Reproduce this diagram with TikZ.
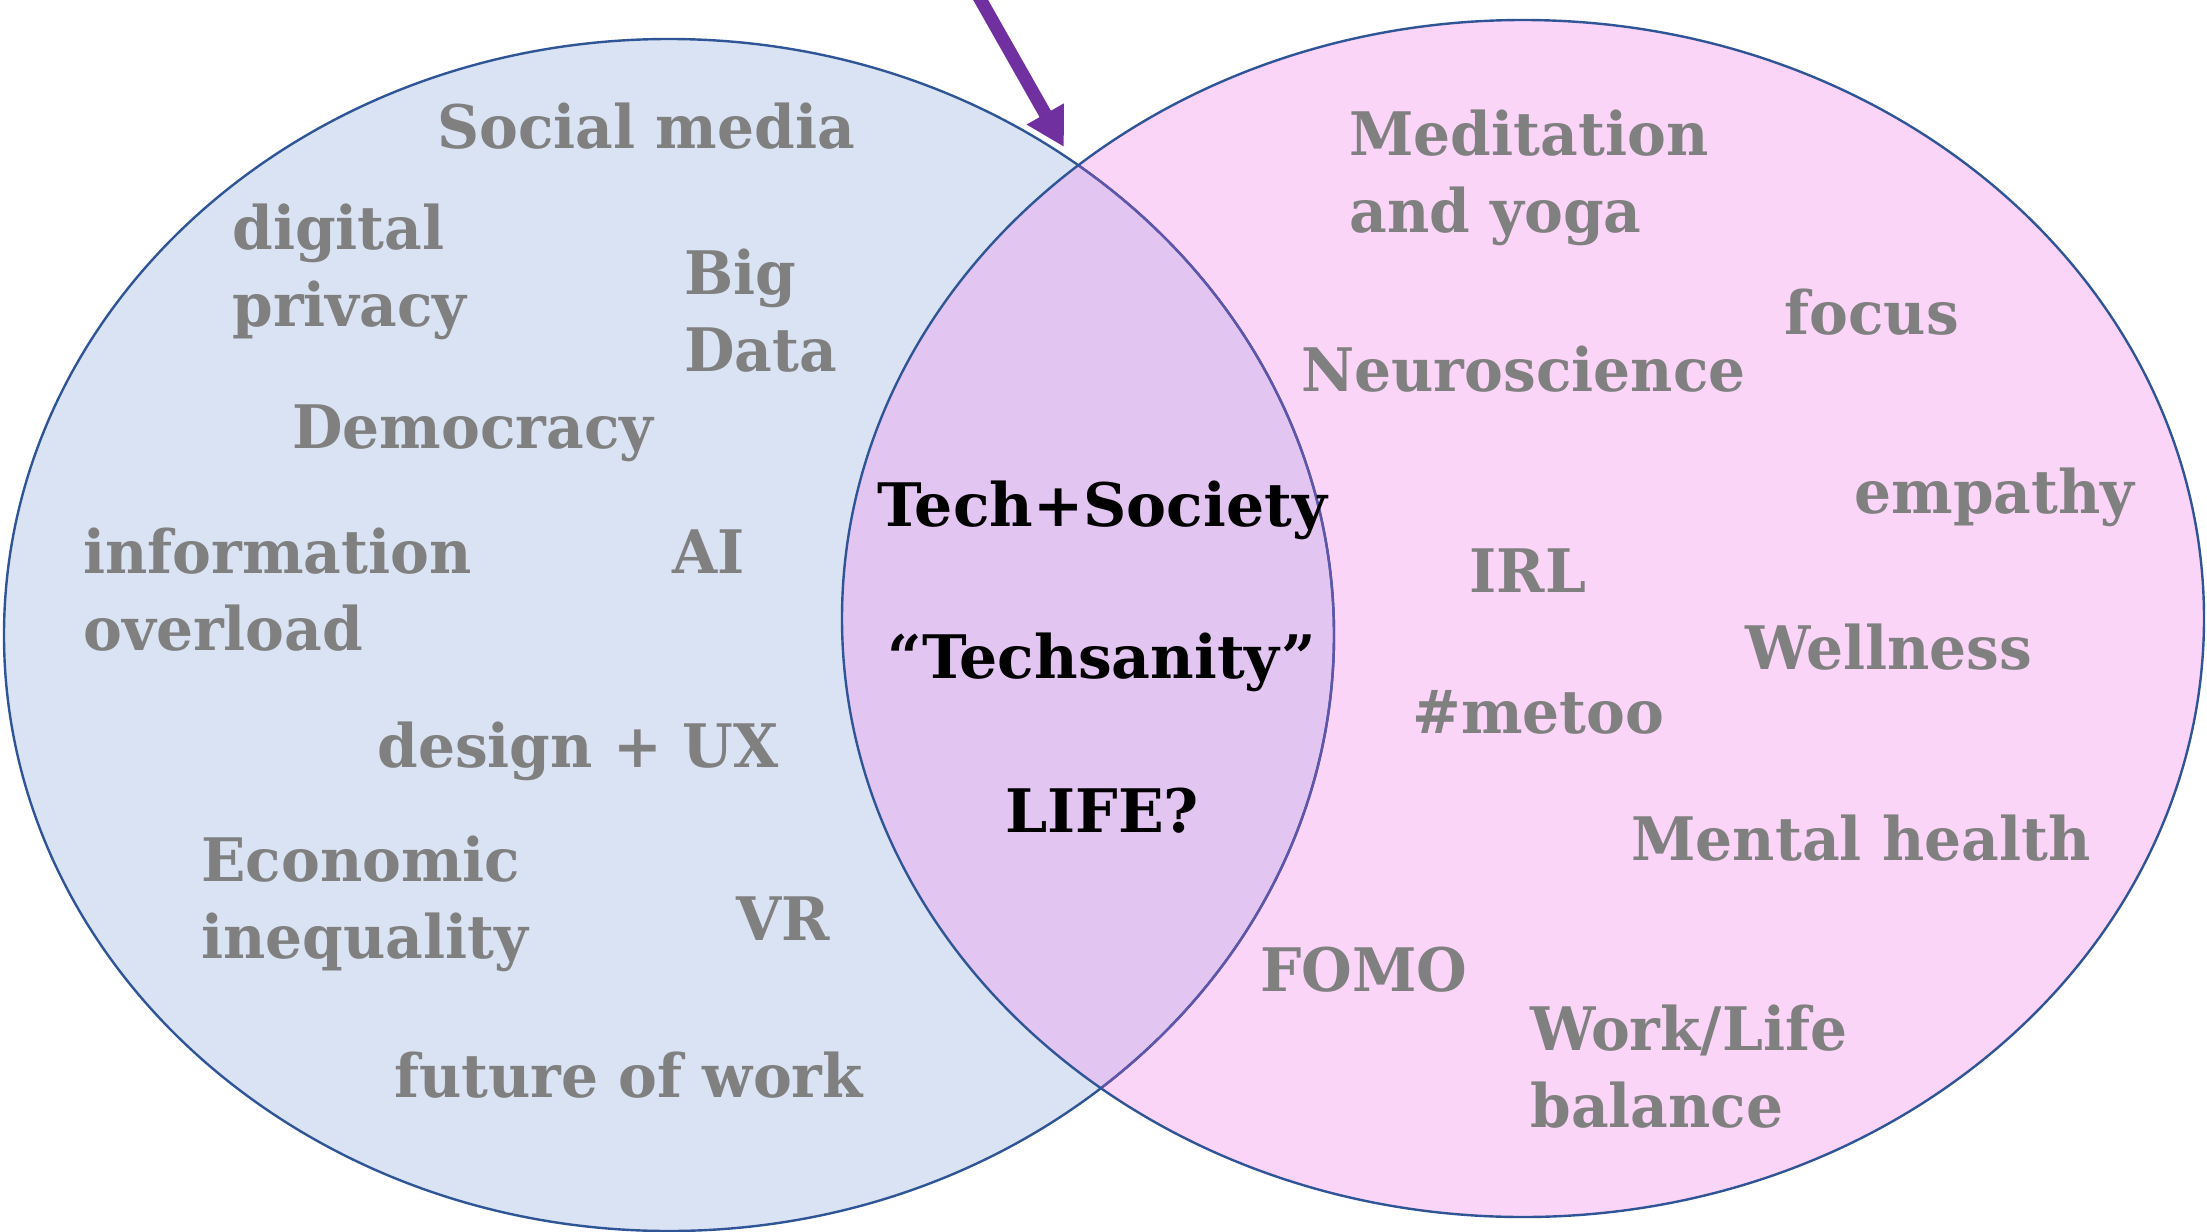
\documentclass[tikz,border=0pt]{standalone}
\usepackage{fontspec}
\setmainfont{DejaVu Serif}
\newfontfamily\termfamily[FakeStretch=0.97]{DejaVu Serif}
\usetikzlibrary{arrows.meta}

\definecolor{setblue}{RGB}{218,227,243}
\definecolor{setpink}{RGB}{251,213,248}
\definecolor{setboth}{RGB}{226,197,240}
\definecolor{rimblue}{RGB}{47,85,151}
\definecolor{rimmix}{RGB}{95,85,170}
\definecolor{termgrey}{RGB}{128,128,128}
\definecolor{pointer}{RGB}{112,48,160}

\newcommand\termfont{\termfamily\fontsize{30}{38.5}\selectfont\bfseries}
\newcommand\corefont{\fontsize{30}{38.5}\selectfont\bfseries}
\newcommand\stackedterm[2]{\begin{tabular}[t]{@{}l@{}}#1\\#2\end{tabular}}

\begin{document}
\begin{tikzpicture}[x=0.5pt,y=-0.5pt,
  term/.style={text=termgrey,font=\termfont,anchor=base west,inner sep=0pt},
  core/.style={text=black,font=\corefont,anchor=base,inner sep=0pt},
  rim/.style={draw=rimblue,line width=1.2pt}]

\useasboundingbox (0,0) rectangle (2207,1232);
\fill[white] (0,0) rectangle (2207,1232);

% the two sets and their overlap
\fill[setblue] (669,635) ellipse [x radius=665, y radius=596];
\fill[setpink] (1523,618.5) ellipse [x radius=681, y radius=598.5];
\begin{scope}
  \clip (669,635) ellipse [x radius=665, y radius=596];
  \fill[setboth] (1523,618.5) ellipse [x radius=681, y radius=598.5];
\end{scope}
\draw[rim] (669,635) ellipse [x radius=665, y radius=596];
\begin{scope}
  \clip (1523,618.5) ellipse [x radius=681, y radius=598.5];
  \draw[draw=rimmix,line width=1.2pt] (669,635) ellipse [x radius=665, y radius=596];
\end{scope}
\draw[rim] (1523,618.5) ellipse [x radius=681, y radius=598.5];

% pointer to the overlap
\coordinate (arrowtail) at (975,-10);
\coordinate (arrowtip) at (1064,147);
\draw[pointer,line width=6.5pt,-{Triangle[width=20pt,length=19pt]}] (arrowtail) -- (arrowtip);

% technology side
\node[term] (social) at (437,148.5) {Social media};
\node[term] (privacy) at (232,249.5) {\stackedterm{digital}{privacy}};
\node[term] (bigdata) at (684,294.7) {\stackedterm{Big}{Data}};
\node[term] (democracy) at (292,448) {Democracy};
\node[term] (overload) at (83,573.7) {\stackedterm{information}{overload}};
\node[term] (ai) at (672,573.7) {AI};
\node[term] (design) at (377,767) {design + UX};
\node[term] (inequality) at (201,881) {\stackedterm{Economic}{inequality}};
\node[term] (vr) at (736,940) {VR};
\node[term] (work) at (394,1097) {future of work};

% wellbeing side
\node[term] (meditation) at (1349,155) {\stackedterm{Meditation}{and yoga}};
\node[term] (focus) at (1784,334) {focus};
\node[term] (neuro) at (1301,391) {Neuroscience};
\node[term] (empathy) at (1854,513) {empathy};
\node[term] (irl) at (1469,592.5) {IRL};
\node[term] (wellness) at (1745,669) {Wellness};
\node[term] (metoo) at (1412,733) {\#metoo};
\node[term] (mental) at (1631,860) {Mental health};
\node[term] (fomo) at (1260,991) {FOMO};
\node[term] (balance) at (1530,1050) {\stackedterm{Work/Life}{balance}};

% overlap
\node[core] (techsociety) at (1102,526) {Tech+Society};
\node[core] (techsanity) at (1102,678) {“Techsanity”};
\node[core] (life) at (1102,832) {LIFE?};

\end{tikzpicture}
\end{document}
